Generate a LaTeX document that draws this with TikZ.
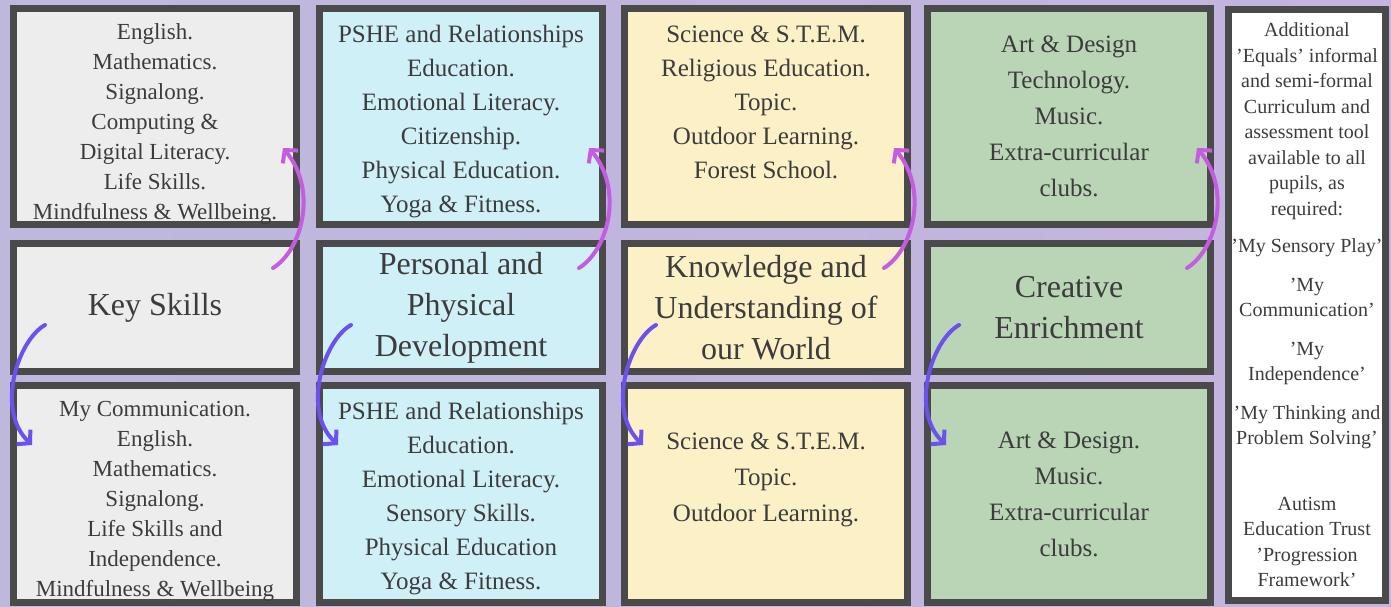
\documentclass[tikz,border=0pt]{standalone}
\usepackage{fontspec}
\setmainfont{Liberation Serif}
\usetikzlibrary{arrows.meta}

\definecolor{edge}{HTML}{4A4A4A}
\definecolor{ink}{HTML}{3C3C3C}
\definecolor{greyc}{HTML}{EDEDED}
\definecolor{ppc}{HTML}{D0F0F8}
\definecolor{kuc}{HTML}{FBF0C6}
\definecolor{crc}{HTML}{B9D5B5}
\definecolor{bgA}{HTML}{BDB8DC}
\definecolor{bgB}{HTML}{DEC0E4}
\definecolor{bgC}{HTML}{C4B4DE}
\definecolor{upc}{HTML}{C45DE0}
\definecolor{downc}{HTML}{6B52EC}

\tikzset{
  box/.style={draw=edge, line width=7pt, minimum width=283pt, text=ink, align=center},
  txt/.style={text=ink, align=center},
  body/.style={font=\fontsize{23}{30}\selectfont},
  bodyl/.style={font=\fontsize{25}{34}\selectfont},
  bodyw/.style={font=\fontsize{25}{36}\selectfont},
  head/.style={font=\fontsize{32}{41}\selectfont},
  side/.style={font=\fontsize{20}{25.5}\selectfont},
  uparr/.style={draw=upc, line width=4pt, line cap=round, -{Straight Barb[length=9pt,width=20pt]}},
  downarr/.style={draw=downc, line width=4pt, line cap=round, -{Straight Barb[length=9pt,width=20pt]}}
}

\begin{document}
\begin{tikzpicture}[x=1pt, y=-1pt]
\useasboundingbox (0,0) rectangle (1391,607);
\shade[left color=bgA, middle color=bgB, right color=bgC] (0,0) rectangle (1391,607);

% key skills
\node[box, fill=greyc, minimum height=216pt] (ksA) at (155,116.5) {};
\node[txt, body] (ksAt) at ([yshift=-8pt]ksA.center) {English.\\Mathematics.\\Signalong.\\Computing \&\\Digital Literacy.\\Life Skills.\\Mindfulness \& Wellbeing.};
\node[box, fill=greyc, minimum height=128pt, head] (ksB) at (155,307.5) {Key Skills};
\node[box, fill=greyc, minimum height=217pt] (ksC) at (155,494) {};
\node[txt, body] (ksCt) at ([yshift=-7pt]ksC.center) {My Communication.\\English.\\Mathematics.\\Signalong.\\Life Skills and\\Independence.\\Mindfulness \& Wellbeing};

% personal and physical
\node[box, fill=ppc, minimum height=216pt] (ppA) at (461,116.5) {};
\node[txt, bodyl] (ppAt) at ([yshift=-5pt]ppA.center) {PSHE and Relationships\\Education.\\Emotional Literacy.\\Citizenship.\\Physical Education.\\Yoga \& Fitness.};
\node[box, fill=ppc, minimum height=128pt, head] (ppB) at (461,307.5) {Personal and\\Physical\\Development};
\node[box, fill=ppc, minimum height=217pt] (ppC) at (461,494) {};
\node[txt, bodyl] (ppCt) at ([yshift=-5pt]ppC.center) {PSHE and Relationships\\Education.\\Emotional Literacy.\\Sensory Skills.\\Physical Education\\Yoga \& Fitness.};

% knowledge and understanding
\node[box, fill=kuc, minimum height=216pt] (kuA) at (766,116.5) {};
\node[txt, bodyl] (kuAt) at ([yshift=14pt]kuA.center) {Science \& S.T.E.M.\\Religious Education.\\Topic.\\Outdoor Learning.\\Forest School.};
\node[box, fill=kuc, minimum height=128pt, head] (kuB) at (766,307.5) {Knowledge and\\Understanding of\\our World};
\node[box, fill=kuc, minimum height=217pt] (kuC) at (766,494) {};
\node[txt, bodyw] (kuCt) at ([yshift=14pt]kuC.center) {Science \& S.T.E.M.\\Topic.\\Outdoor Learning.};

% creative enrichment
\node[box, fill=crc, minimum height=216pt, bodyw] (ceA) at (1069,116.5) {Art \& Design\\Technology.\\Music.\\Extra-curricular\\clubs.};
\node[box, fill=crc, minimum height=128pt, head] (ceB) at (1069,307.5) {Creative\\Enrichment};
\node[box, fill=crc, minimum height=217pt, bodyw] (ceC) at (1069,494) {Art \& Design.\\Music.\\Extra-curricular\\clubs.};

% equals side panel
\node[box, fill=white, minimum width=153pt, minimum height=591pt, side] (eq) at (1307,305) {Additional\\'Equals' informal\\and semi-formal\\Curriculum and\\assessment tool\\available to all\\pupils, as\\required:\\[12pt]'My Sensory Play'\\[13pt]'My\\Communication'\\[13pt]'My\\Independence'\\[13pt]'My Thinking and\\Problem Solving'\\[40pt]Autism\\Education Trust\\'Progression\\Framework'};

% arrows
\foreach \t/\m/\b in {ksA/ksB/ksC, ppA/ppB/ppC, kuA/kuB/kuC, ceA/ceB/ceC} {
  \draw[uparr] ([shift={(-27,28)}]\m.north east) .. controls ([shift={(2,10)}]\m.north east) and ([shift={(18,-50)}]\m.north east) .. ([shift={(-17,-80)}]\t.south east);
  \draw[downarr] ([shift={(35,-50)}]\m.south west) .. controls ([shift={(8,-35)}]\m.south west) and ([shift={(-15,28)}]\b.north west) .. ([shift={(22,63)}]\b.north west);
}
\end{tikzpicture}
\end{document}
